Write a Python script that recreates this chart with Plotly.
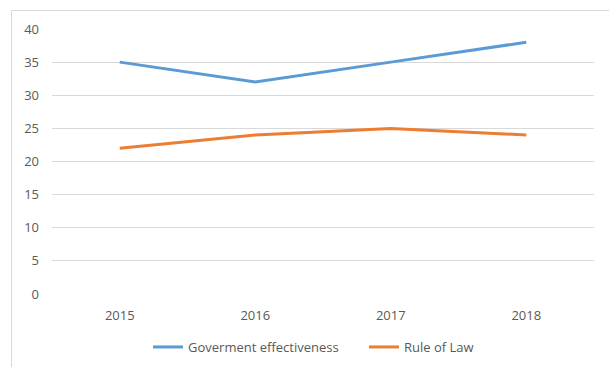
import plotly.graph_objects as go

years = ["2015", "2016", "2017", "2018"]
gov_eff = [35, 32, 35, 38]
rule_of_law = [22, 24, 25, 24]

W, H = 609, 367
L, R, T, B = 52, 15, 29, 73
pw, ph = W - L - R, H - T - B

fig = go.Figure()
fig.add_trace(go.Scatter(x=years, y=gov_eff, mode="lines", name="Goverment effectiveness",
                         line=dict(color="#5B9BD5", width=3)))
fig.add_trace(go.Scatter(x=years, y=rule_of_law, mode="lines", name="Rule of Law",
                         line=dict(color="#ED7D31", width=3)))

def px2x(p):
    return (p - L) / pw

def px2y(p):
    return (H - B - p) / ph

fig.add_shape(type="rect", xref="paper", yref="paper",
              x0=px2x(11.5), x1=px2x(640), y0=px2y(400), y1=px2y(10.5),
              line=dict(color="#D9D9D9", width=1), fillcolor="rgba(0,0,0,0)", layer="below")

fig.update_layout(
    width=W, height=H,
    margin=dict(l=L, r=R, t=T, b=B, autoexpand=False),
    paper_bgcolor="white", plot_bgcolor="white",
    font=dict(family="Open Sans, Liberation Sans, sans-serif", size=13, color="#595959"),
    xaxis=dict(type="category", range=[-0.5, 3.5], showgrid=False, zeroline=False,
               showline=False, ticks="", ticklabelstandoff=12,
               tickfont=dict(size=13, color="#595959")),
    yaxis=dict(range=[0, 40], dtick=5, showgrid=True, gridcolor="#D9D9D9", gridwidth=1,
               zeroline=False, showline=False, ticks="", ticklabelstandoff=12,
               tickfont=dict(size=13, color="#595959")),
    legend=dict(orientation="h", xref="container", yref="container",
                x=148 / W, xanchor="left", y=1 - 347 / H, yanchor="middle",
                entrywidth=171,
                font=dict(size=13, color="#595959")),
    showlegend=True,
)
fig.write_html("out.html")
